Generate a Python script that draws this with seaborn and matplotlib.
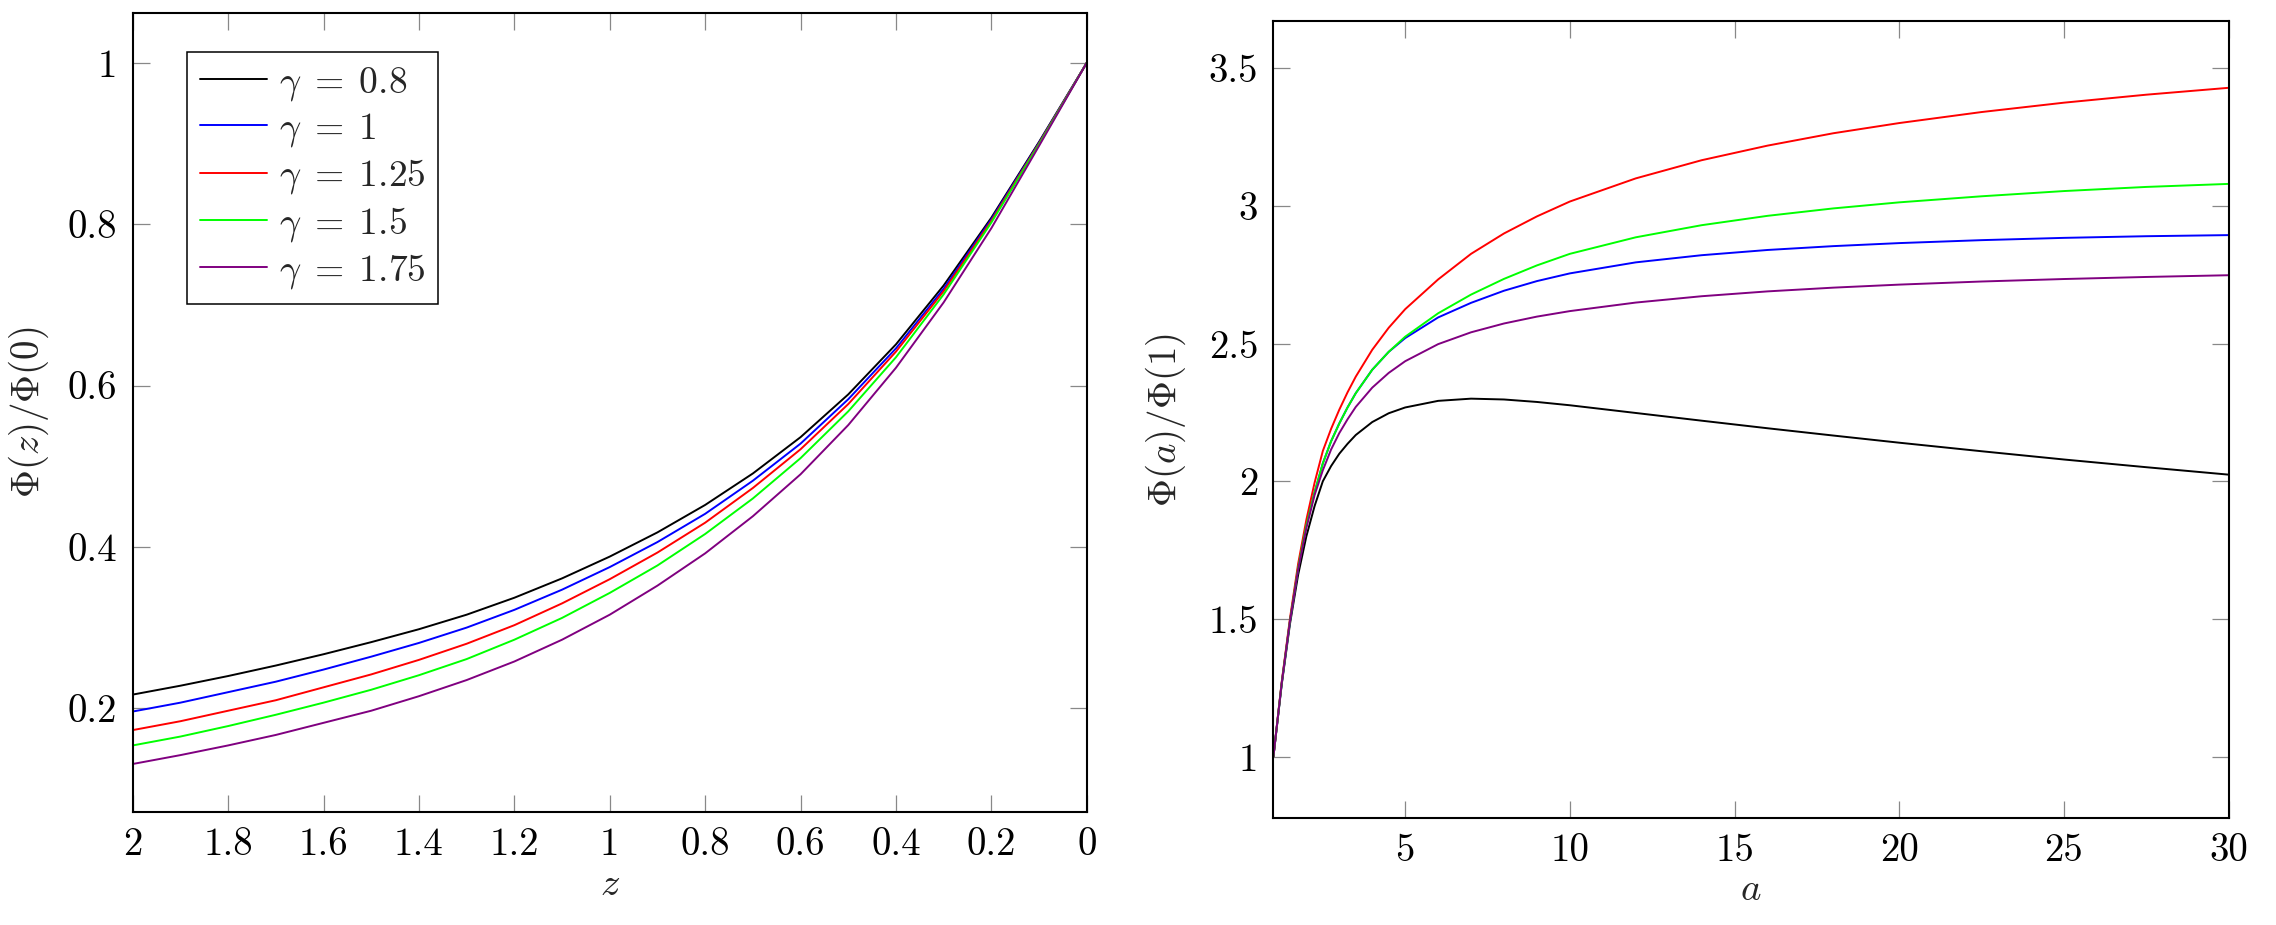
import numpy as np
import pandas as pd
import matplotlib
matplotlib.use("Agg")
import matplotlib.pyplot as plt
from matplotlib import ticker
import seaborn as sns

# left panel: Phi(z)/Phi(0) against z
z_vals = [0.0, 0.1, 0.2, 0.3, 0.4, 0.5, 0.6, 0.7, 0.8, 0.9, 1.0,
          1.1, 1.2, 1.3, 1.4, 1.5, 1.6, 1.7, 1.8, 1.9, 2.0]
phi_z_08 = [1.000, 0.902, 0.808, 0.724, 0.651, 0.589, 0.536, 0.491, 0.452, 0.418, 0.388,
            0.361, 0.337, 0.316, 0.298, 0.282, 0.267, 0.253, 0.240, 0.228, 0.217]
phi_z_100 = [1.000, 0.901, 0.806, 0.720, 0.646, 0.583, 0.528, 0.482, 0.441, 0.406, 0.375,
             0.347, 0.322, 0.300, 0.281, 0.264, 0.248, 0.233, 0.220, 0.207, 0.196]
phi_z_125 = [1.000, 0.900, 0.804, 0.717, 0.642, 0.577, 0.521, 0.473, 0.430, 0.393, 0.360,
             0.330, 0.303, 0.280, 0.260, 0.242, 0.226, 0.210, 0.197, 0.184, 0.173]
phi_z_150 = [1.000, 0.899, 0.802, 0.713, 0.635, 0.568, 0.510, 0.460, 0.416, 0.377, 0.343,
             0.312, 0.285, 0.261, 0.241, 0.223, 0.207, 0.192, 0.178, 0.165, 0.154]
phi_z_175 = [1.000, 0.897, 0.795, 0.703, 0.622, 0.551, 0.490, 0.438, 0.392, 0.352, 0.316,
             0.285, 0.258, 0.235, 0.215, 0.197, 0.182, 0.167, 0.154, 0.142, 0.131]

# right panel: Phi(a)/Phi(1) against a
a_vals = [1, 1.25, 1.5, 1.75, 2, 2.25, 2.5, 2.75, 3, 3.25, 3.5, 4, 4.5, 5, 6, 7, 8, 9, 10,
          12, 14, 16, 18, 20, 22.5, 25, 27.5, 30]
phi_a_08 = [1.0, 1.26, 1.48, 1.66, 1.80, 1.91, 2.00, 2.055, 2.10, 2.136, 2.168, 2.215, 2.247,
            2.268, 2.292, 2.300, 2.297, 2.288, 2.276, 2.248, 2.220, 2.1925, 2.166, 2.140,
            2.109, 2.079, 2.051, 2.024]
phi_a_100 = [1.0, 1.265, 1.49, 1.685, 1.84, 1.96, 2.065, 2.145, 2.21, 2.268, 2.32, 2.405, 2.47,
             2.52, 2.595, 2.648, 2.692, 2.727, 2.755, 2.795, 2.821, 2.840, 2.854, 2.865,
             2.8757, 2.884, 2.890, 2.894]
phi_a_125 = [1.0, 1.27, 1.50, 1.70, 1.86, 1.995, 2.11, 2.19, 2.26, 2.323, 2.38, 2.4775, 2.5575,
             2.625, 2.733, 2.826, 2.90, 2.962, 3.016, 3.10, 3.166, 3.219, 3.264, 3.301,
             3.341, 3.375, 3.404, 3.429]
phi_a_150 = [1.0, 1.265, 1.49, 1.685, 1.84, 1.96, 2.065, 2.145, 2.21, 2.268, 2.32, 2.405, 2.47,
             2.525, 2.610, 2.678, 2.735, 2.784, 2.826, 2.886, 2.930, 2.964, 2.991, 3.013,
             3.035, 3.054, 3.069, 3.080]
phi_a_175 = [1.0, 1.265, 1.49, 1.68, 1.83, 1.95, 2.04, 2.115, 2.175, 2.225, 2.27, 2.34, 2.3935,
             2.436, 2.498, 2.541, 2.573, 2.598, 2.618, 2.649, 2.672, 2.6896, 2.7032, 2.7142,
             2.7255, 2.7345, 2.742, 2.7483]

gamma_labels = [r"$\gamma\;=\;0.8$", r"$\gamma\;=\;1$", r"$\gamma\;=\;1.25$",
                r"$\gamma\;=\;1.5$", r"$\gamma\;=\;1.75$"]
colors = ["black", "#0000ff", "#ff0000", "#00ff00", "#800080"]

sns.set_theme(style="white")
plt.rcParams["font.family"] = ["cmr10", "DejaVu Serif"]
plt.rcParams["mathtext.fontset"] = "cm"
plt.rcParams["axes.formatter.use_mathtext"] = True
plt.rcParams["axes.unicode_minus"] = False

fig = plt.figure(figsize=(22.76, 9.25), dpi=100)
ax1 = fig.add_axes([0.0583, 0.1225, 0.4192, 0.8631])
ax2 = fig.add_axes([0.5595, 0.1154, 0.4197, 0.8623])

left_series = [phi_z_08, phi_z_100, phi_z_125, phi_z_150, phi_z_175]
right_series = [phi_a_08, phi_a_100, phi_a_125, phi_a_150, phi_a_175]

for vals, c, lbl in zip(left_series, colors, gamma_labels):
    sns.lineplot(x=z_vals, y=vals, color=c, lw=1.4, label=lbl, ax=ax1)
for vals, c in zip(right_series, colors):
    sns.lineplot(x=a_vals, y=vals, color=c, lw=1.4, ax=ax2, legend=False)

ax1.set_xlim(2, 0)
ax1.set_ylim(0.0719, 1.0612)
ax1.set_xticks(np.arange(0, 2.01, 0.2))
ax1.set_yticks([0.2, 0.4, 0.6, 0.8, 1.0])

ax2.set_xlim(1, 30)
ax2.set_ylim(0.776, 3.673)
ax2.set_xticks([5, 10, 15, 20, 25, 30])
ax2.set_yticks([1, 1.5, 2, 2.5, 3, 3.5])

fmt = ticker.FuncFormatter(lambda v, p: f"{round(v, 6):g}")
for ax in (ax1, ax2):
    ax.xaxis.set_major_formatter(fmt)
    ax.yaxis.set_major_formatter(fmt)
    ax.tick_params(which="major", direction="in", length=12, width=0.9,
                   color="#888888", labelsize=28, labelcolor="black",
                   top=True, right=True, bottom=True, left=True, pad=11)
    for sp in ax.spines.values():
        sp.set_visible(True)
        sp.set_color("black")
        sp.set_linewidth(1.5)
    ax.grid(False)

ax1.set_xlabel(r"$z$", fontsize=28, labelpad=3)
ax1.set_ylabel(r"$\Phi(z)/\Phi(0)$", fontsize=28, labelpad=12)
ax2.set_xlabel(r"$a$", fontsize=28, labelpad=2)
ax2.set_ylabel(r"$\Phi(a)/\Phi(1)$", fontsize=28, labelpad=15)

leg = ax1.legend(loc="upper left", bbox_to_anchor=(0.0566, 0.952), fontsize=27,
                 frameon=True, fancybox=False, framealpha=1, edgecolor="black",
                 handlelength=1.8, handletextpad=0.3, labelspacing=0.22,
                 borderpad=0.35, borderaxespad=0)
leg.get_frame().set_linewidth(1.1)

fig.savefig("out.png", dpi=100)
